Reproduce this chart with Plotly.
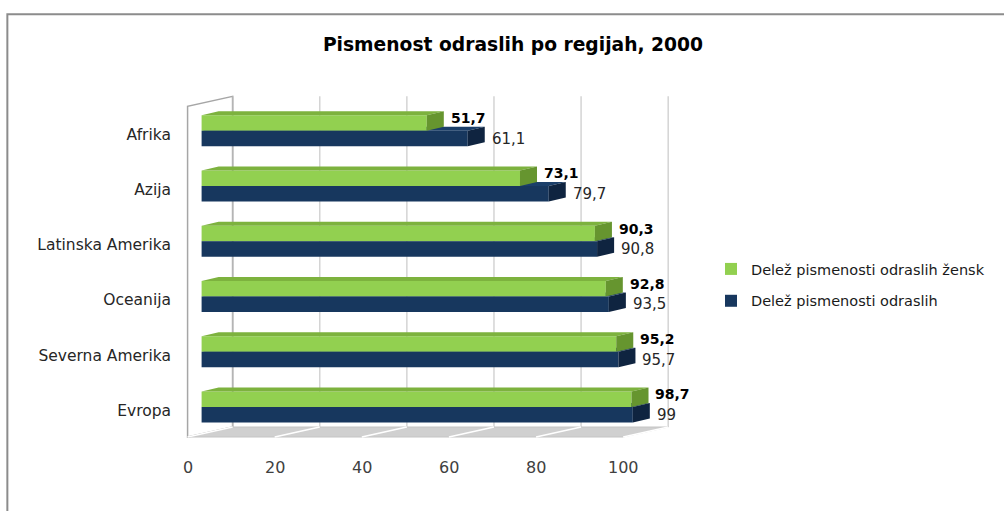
import plotly.graph_objects as go

# ---------------- data ----------------
CATEGORIES = ["Afrika", "Azija", "Latinska Amerika", "Oceanija", "Severna Amerika", "Evropa"]
WOMEN = [51.7, 73.1, 90.3, 92.8, 95.2, 98.7]
ADULTS = [61.1, 79.7, 90.8, 93.5, 95.7, 99]
SERIES_NAMES = ["Delež pismenosti odraslih žensk", "Delež pismenosti odraslih"]
X_TICKS = [0, 20, 40, 60, 80, 100]
TITLE = "Pismenost odraslih po regijah, 2000"

# ---------------- styling / geometry ----------------
W, H = 1004, 511
PX_X, PX_Y = 4.35, 55.3          # pixels per x unit / per category
X0_PX, Y0_PX = 202, 130.5        # pixel of x=0 and of the first category
XMIN, XMAX = -4.5, 108
YTOP, YBOT = -0.72, 5.65
BAR_W = 0.28

GREEN, GREEN_TOP, GREEN_SIDE = "#92D050", "#7DB23E", "#66952F"
BLUE, BLUE_TOP, BLUE_SIDE = "#17375E", "#1B3F6A", "#0F2440"
FONT = "DejaVu Sans"

ml = X0_PX + XMIN * PX_X
mr = W - (X0_PX + XMAX * PX_X)
mt = Y0_PX + YTOP * PX_Y
mb = H - (Y0_PX + YBOT * PX_Y)
plot_h = H - mt - mb
plot_w = W - ml - mr

def ux(px):
    return px / PX_X

def uy(px):
    return px / PX_Y

# depth offsets (in data units)
BDX, BDY = ux(17), uy(4)           # bar depth
WDX, WDY = ux(31), uy(7)           # back wall relative to bar front
FDX, FDY = ux(-14), uy(3)          # floor front relative to bar front

def path(pts, close=True):
    s = "M " + " L ".join(f"{x},{y}" for x, y in pts)
    return s + (" Z" if close else "")

def fmt(v):
    return f"{v:g}".replace(".", ",")

shapes = []
n = len(CATEGORIES)
floor_front_y = (H - mb - 6 - Y0_PX) / PX_Y
floor_back_y = floor_front_y - uy(10)
wall_top_back = uy(96 - Y0_PX)
wall_top_front = wall_top_back + uy(10)

# left wall
shapes.append(dict(type="path", xref="x", yref="y", layer="below",
                   path=path([(FDX, floor_front_y), (FDX, wall_top_front),
                              (WDX, wall_top_back), (WDX, floor_back_y)]),
                   fillcolor="white", line=dict(color="#A6A6A6", width=1.5)))
# back-wall gridlines
for v in X_TICKS:
    shapes.append(dict(type="line", xref="x", yref="y", layer="below",
                       x0=v + WDX, x1=v + WDX, y0=wall_top_back, y1=floor_back_y,
                       line=dict(color="#D4D4D4" if v else "#B5B5B5", width=1.5)))
# floor
xmax_tick = X_TICKS[-1]
shapes.append(dict(type="path", xref="x", yref="y", layer="below",
                   path=path([(FDX, floor_front_y), (xmax_tick + FDX, floor_front_y),
                              (xmax_tick + WDX, floor_back_y), (WDX, floor_back_y)]),
                   fillcolor="#D0D0D0", line=dict(color="#C4C4C4", width=1)))
for v in X_TICKS:
    shapes.append(dict(type="line", xref="x", yref="y", layer="below",
                       x0=v + FDX, x1=v + WDX, y0=floor_front_y, y1=floor_back_y,
                       line=dict(color="white", width=1.5)))

# 3D faces of the bars
for i, (g, b) in enumerate(zip(WOMEN, ADULTS)):
    shapes.append(dict(type="path", xref="x", yref="y", layer="below",
                       path=path([(0, i), (b, i), (b + BDX, i - BDY), (BDX, i - BDY)]),
                       fillcolor=BLUE_TOP, line=dict(width=0)))
    shapes.append(dict(type="path", xref="x", yref="y", layer="above",
                       path=path([(b, i), (b, i + BAR_W), (b + BDX, i + BAR_W - BDY), (b + BDX, i - BDY)]),
                       fillcolor=BLUE_SIDE, line=dict(width=0)))
    gt = i - BAR_W
    shapes.append(dict(type="path", xref="x", yref="y", layer="above",
                       path=path([(0, gt), (g, gt), (g + BDX, gt - BDY), (BDX, gt - BDY)]),
                       fillcolor=GREEN_TOP, line=dict(width=0)))
    shapes.append(dict(type="path", xref="x", yref="y", layer="above",
                       path=path([(g, gt), (g, i), (g + BDX, i - BDY), (g + BDX, gt - BDY)]),
                       fillcolor=GREEN_SIDE, line=dict(width=0)))

# outer frame of the chart image
def paper_x(px):
    return (px - ml) / plot_w

def paper_y(px):
    return (H - mb - px) / plot_h

shapes.append(dict(type="path", xref="paper", yref="paper", layer="above",
                   path=path([(paper_x(1020), paper_y(14)), (paper_x(8), paper_y(14)),
                              (paper_x(8), paper_y(530))], close=False),
                   line=dict(color="#8C8C8C", width=2)))

ypos = list(range(n))

fig = go.Figure()
fig.add_trace(go.Bar(y=ypos, x=WOMEN, orientation="h", name=SERIES_NAMES[0],
                     marker=dict(color=GREEN, line=dict(width=0)),
                     legendgroup="a", hoverinfo="x+name"))
fig.add_trace(go.Bar(y=ypos, x=ADULTS, orientation="h", name=SERIES_NAMES[1],
                     marker=dict(color=BLUE, line=dict(width=0)),
                     legendgroup="b", hoverinfo="x+name"))

annotations = []
for i, (g, b) in enumerate(zip(WOMEN, ADULTS)):
    annotations.append(dict(x=g, y=i - BAR_W / 2, xref="x", yref="y", text=f"<b>{fmt(g)}</b>",
                            showarrow=False, xanchor="left", xshift=22, yshift=5,
                            font=dict(family=FONT, size=14, color="#000000")))
    annotations.append(dict(x=b, y=i + BAR_W / 2, xref="x", yref="y", text=fmt(b),
                            showarrow=False, xanchor="left", xshift=22, yshift=0,
                            font=dict(family=FONT, size=15, color="#262626")))
for v in X_TICKS:
    annotations.append(dict(x=v + FDX, y=paper_y(467), xref="x", yref="paper", text=str(v),
                            showarrow=False, xanchor="center", yanchor="middle",
                            font=dict(family=FONT, size=16, color="#404040")))

fig.update_layout(
    width=W, height=H,
    template="none",
    paper_bgcolor="white", plot_bgcolor="rgba(0,0,0,0)",
    margin=dict(l=ml, r=mr, t=mt, b=mb, autoexpand=False),
    barmode="group", bargap=1 - 2 * BAR_W, bargroupgap=0,
    title=dict(text=f"<b>{TITLE}</b>", x=513 / W, xanchor="center", xref="container",
               y=1 - 44 / H, yanchor="middle", yref="container",
               font=dict(family=FONT, size=18.7, color="#000000")),
    xaxis=dict(range=[XMIN, XMAX], showgrid=False, zeroline=False, showline=False,
               showticklabels=False, ticks=""),
    yaxis=dict(range=[YBOT, YTOP], showgrid=False, zeroline=False, showline=False,
               tickmode="array", tickvals=[i + uy(3.5) for i in ypos], ticktext=CATEGORIES,
               ticks="", ticklabelstandoff=10,
               tickfont=dict(family=FONT, size=15.5, color="#262626")),
    legend=dict(xref="container", yref="container", x=711 / W, y=1 - 285 / H,
                xanchor="left", yanchor="middle", traceorder="grouped", tracegroupgap=10,
                font=dict(family=FONT, size=14.5, color="#1A1A1A"),
                bgcolor="rgba(0,0,0,0)", itemwidth=30),
    shapes=shapes,
    annotations=annotations,
    showlegend=True,
)

fig.write_html("out.html", config={"displayModeBar": False},
               post_script="document.body.style.margin='0';document.body.style.overflow='hidden';")
